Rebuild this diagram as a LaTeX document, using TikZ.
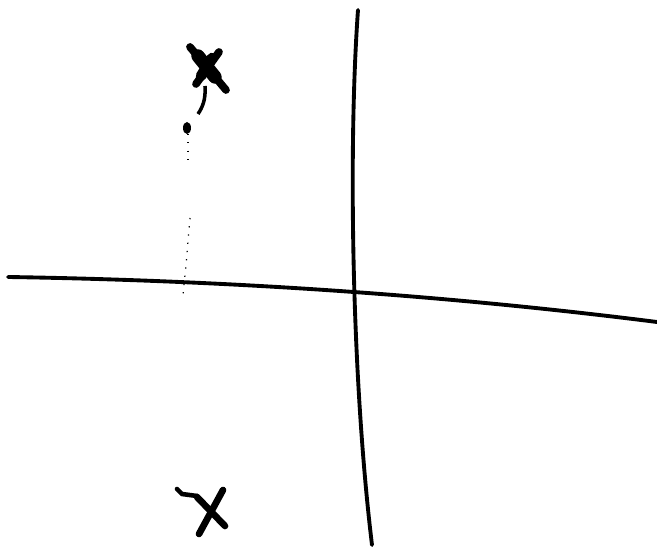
\documentclass[tikz,border=0pt]{standalone}
\usetikzlibrary{calc}

\begin{document}
\begin{tikzpicture}[
    x=0.01cm, y=-0.01cm,
    axis/.style={line width=1.1pt, line cap=round},
    cross/.style={line width=2.2pt, line cap=round},
    trace/.style={line width=0.35pt, dotted}
]

% Frame
\useasboundingbox (0,0) rectangle (657,549);

% Axes
\coordinate (hl) at (8,277);
\coordinate (hr) at (657,322);
\coordinate (vt) at (358,10);
\coordinate (vb) at (372,545);
\draw[axis] (hl) .. controls (200,280) and (420,292) .. (hr);
\draw[axis] (vt) .. controls (348,150) and (352,380) .. (vb);

% Upper cross with tail
\coordinate (ua1) at (190,47);
\coordinate (ua2) at (226,90);
\coordinate (ub1) at (219,52);
\coordinate (ub2) at (196,84);
\draw[cross] (ua1) -- (ua2);
\draw[cross] (ub1) -- (ub2);
\draw[cross, line width=3.8pt] (198,56) -- (215,77);
\draw[cross, line width=3pt] (212,58) -- (201,76);
\draw[line width=1pt] (205,86) .. controls (206,100) and (202,108) .. (198,114);
\fill (187,128) ellipse (4 and 6);

% Trace down to the axis
\draw[trace] (188,134) -- (188,162);
\draw[trace] (190,218) -- (186,265) -- (183,295);

% Lower cross
\coordinate (la1) at (223,490);
\coordinate (la2) at (199,534);
\coordinate (lb1) at (197,497);
\coordinate (lb2) at (225,526);
\draw[cross, line width=1.9pt] (la1) -- (la2);
\draw[cross, line width=1.9pt] (lb1) -- (lb2);
\draw[line width=1.3pt, line cap=round] (177,489) -- (182,494) -- (197,496);

\end{tikzpicture}
\end{document}
